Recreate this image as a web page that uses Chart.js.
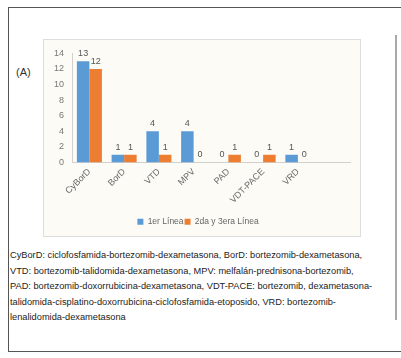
<!DOCTYPE html>
<html>
<head>
<meta charset="utf-8">
<script src="https://cdn.jsdelivr.net/npm/chart.js@4.4.1/dist/chart.umd.min.js"></script>
<style>
  body { margin: 0; background: #fff; font-family: "Liberation Sans", Arial, sans-serif; }
  #frame { position: absolute; left: 8px; top: 7px; width: 400px; height: 343px; border: 1px solid #555; border-right: none; }
  #rule { position: absolute; left: 395px; top: 35px; width: 2px; height: 285px; background: #aaa; }
  #tag { position: absolute; left: 16px; top: 66px; font-size: 11px; color: #333; }
  #panel { position: absolute; left: 43px; top: 39px; width: 316px; height: 196px; border: 1px solid #ddd; background: #fcfbf6; }
  #caption { position: absolute; left: 10px; top: 248px; font-size: 9.25px; line-height: 15.6px; color: #222; white-space: nowrap; }
</style>
</head>
<body>
<div id="frame"></div>
<div id="rule"></div>
<div id="tag">(A)</div>
<div id="panel"><canvas id="chart" width="316" height="196"></canvas></div>
<div id="caption">
CyBorD: ciclofosfamida-bortezomib-dexametasona, BorD: bortezomib-dexametasona,<br>
VTD: bortezomib-talidomida-dexametasona, MPV: melfalán-prednisona-bortezomib,<br>
PAD: bortezomib-doxorrubicina-dexametasona, VDT-PACE: bortezomib, dexametasona-<br>
talidomida-cisplatino-doxorrubicina-ciclofosfamida-etoposido, VRD: bortezomib-<br>
lenalidomida-dexametasona
</div>
<script>
// categorías (la última vacía, como en el original)
const categories = ['CyBorD', 'BorD', 'VTD', 'MPV', 'PAD', 'VDT-PACE', 'VRD', ''];
const primeraLinea = [13, 1, 4, 4, 0, 0, 1, null];
const segundaLinea = [12, 1, 1, 0, 1, 1, 0, null];
const seriesNames = ['1er Línea', '2da y 3era Línea'];
const yTicks = [0, 2, 4, 6, 8, 10, 12, 14];

// etiquetas de valor encima de las barras
const valueLabels = {
    id: 'valueLabels',
    afterDatasetsDraw(chart) {
        const ctx = chart.ctx;
        ctx.save();
        ctx.font = '9px "Liberation Sans", Arial, sans-serif';
        ctx.fillStyle = '#555';
        ctx.textAlign = 'center';
        ctx.textBaseline = 'bottom';
        chart.data.datasets.forEach((ds, i) => {
            const meta = chart.getDatasetMeta(i);
            meta.data.forEach((bar, j) => {
                const v = ds.data[j];
                if (v === null || v === undefined) return;
                ctx.fillText(String(v), bar.x, bar.y - 3);
            });
        });
        ctx.restore();
    }
};

const ctx = document.getElementById('chart').getContext('2d');
new Chart(ctx, {
    type: 'bar',
    data: {
        labels: categories,
        datasets: [
            {
                label: seriesNames[0],
                data: primeraLinea,
                backgroundColor: '#5b9bd5',
                categoryPercentage: 0.72,
                barPercentage: 1
            },
            {
                label: seriesNames[1],
                data: segundaLinea,
                backgroundColor: '#ed7d31',
                categoryPercentage: 0.72,
                barPercentage: 1
            }
        ]
    },
    options: {
        responsive: false,
        animation: false,
        layout: { padding: { left: 2, right: 10, top: 0, bottom: 0 } },
        plugins: {
            legend: {
                position: 'bottom',
                labels: {
                    boxWidth: 6,
                    boxHeight: 6,
                    padding: 1,
                    color: '#666',
                    font: { size: 8.5, family: '"Liberation Sans", Arial, sans-serif' }
                }
            },
            tooltip: { enabled: false }
        },
        scales: {
            x: {
                grid: { display: false, drawTicks: false },
                border: { color: '#d0d0d0' },
                afterFit: s => { s.height = 54; },
                ticks: {
                    color: '#666',
                    maxRotation: 45,
                    minRotation: 45,
                    padding: 4,
                    font: { size: 9, family: '"Liberation Sans", Arial, sans-serif' }
                }
            },
            y: {
                min: 0,
                max: 14,
                afterBuildTicks: axis => { axis.ticks = yTicks.map(v => ({ value: v })); },
                grid: { display: false, drawTicks: false },
                border: { color: '#d0d0d0' },
                ticks: {
                    color: '#777',
                    padding: 8,
                    font: { size: 9, family: '"Liberation Sans", Arial, sans-serif' }
                }
            }
        }
    },
    plugins: [valueLabels]
});
</script>
</body>
</html>
